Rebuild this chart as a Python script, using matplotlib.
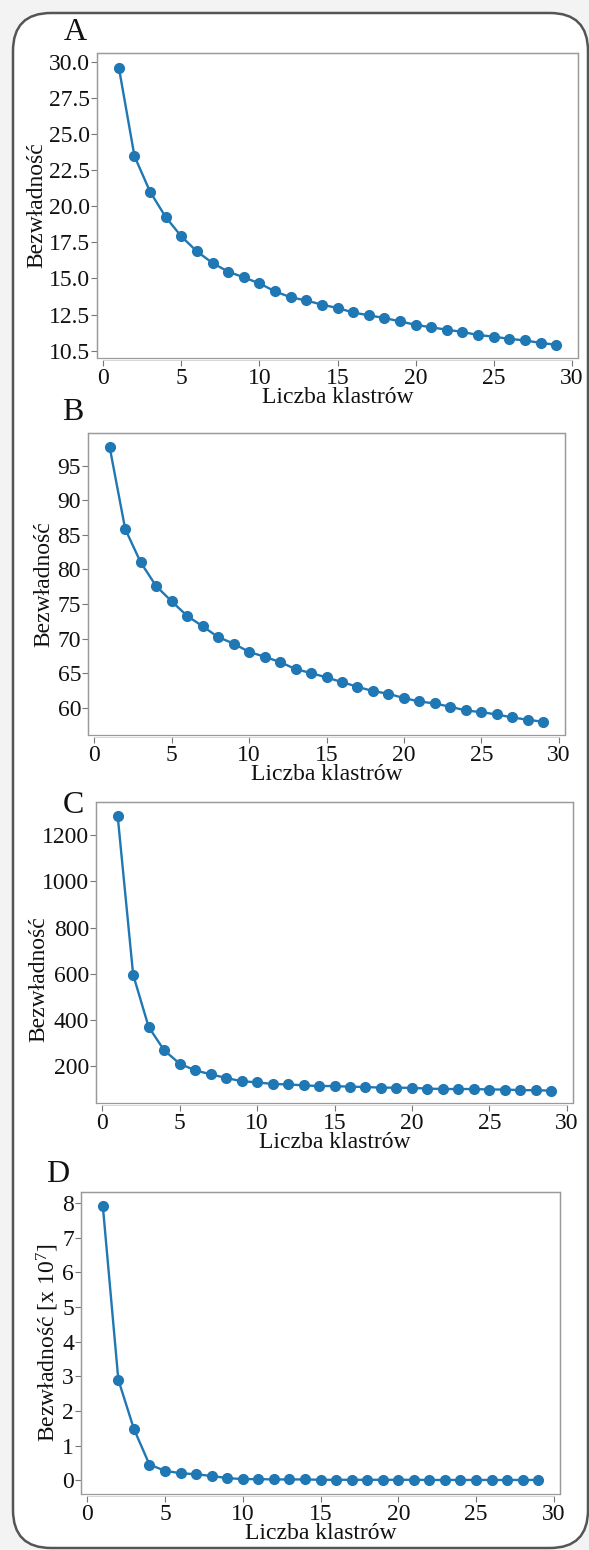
import matplotlib
matplotlib.use('Agg')
import matplotlib.pyplot as plt
from matplotlib.patches import FancyBboxPatch, Rectangle

plt.rcParams['font.family'] = ['Liberation Serif', 'DejaVu Serif']
plt.rcParams['mathtext.fontset'] = 'custom'
plt.rcParams['mathtext.rm'] = 'Liberation Serif'
plt.rcParams['mathtext.it'] = 'Liberation Serif'

W, H = 589, 1550

clusters = list(range(1, 30))

inertia_a = [29.59, 23.46, 21.00, 19.25, 17.91, 16.87, 16.07, 15.47, 15.08, 14.66,
             14.11, 13.70, 13.48, 13.19, 12.96, 12.65, 12.45, 12.27, 12.03, 11.80,
             11.62, 11.46, 11.30, 11.09, 10.98, 10.82, 10.72, 10.54, 10.42]
inertia_b = [97.65, 85.85, 81.03, 77.60, 75.40, 73.30, 71.80, 70.24, 69.30, 68.10,
             67.40, 66.63, 65.62, 65.04, 64.41, 63.74, 63.06, 62.44, 62.05, 61.43,
             60.94, 60.65, 60.17, 59.64, 59.40, 59.06, 58.63, 58.30, 58.00]
inertia_c = [1283, 595, 369, 268, 210, 181, 164, 148, 134, 129,
             122, 120, 116, 113, 113, 110, 109, 106, 106, 105,
             102, 100, 100, 100, 98, 98, 95, 95, 93]
inertia_d = [7.93, 2.90, 1.48, 0.45, 0.27, 0.20, 0.17, 0.12, 0.06, 0.03,
             0.03, 0.02, 0.02, 0.02, 0.01, 0.01, 0.01, 0.01, 0.01, 0.01,
             0.01, 0.005, 0.005, 0.005, 0.005, 0.005, 0.005, 0.005, 0.005]

yticks_a = [10, 12.5, 15, 17.5, 20, 22.5, 25, 27.5, 30]
ylabels_a = ['10.5', '12.5', '15.0', '17.5', '20.0', '22.5', '25.0', '27.5', '30.0']
yticks_b = [60, 65, 70, 75, 80, 85, 90, 95]
yticks_c = [200, 400, 600, 800, 1000, 1200]
yticks_d = [0, 1, 2, 3, 4, 5, 6, 7, 8]
xticks = [0, 5, 10, 15, 20, 25, 30]

xlabel = 'Liczba klastrów'
ylabel = 'Bezwładność'

# panel boxes in pixels: left, top, right, bottom
panels = [
    dict(letter='A', y=inertia_a, box=(97, 53, 578, 358), ylim=(9.5, 30.6),
         ticks=yticks_a, labels=ylabels_a, ylab=ylabel, ylab_pos=(-0.125, 0.5),
         letter_pos=(75, 32)),
    dict(letter='B', y=inertia_b, box=(88, 433, 565, 735), ylim=(56.1, 99.7),
         ticks=yticks_b, labels=None, ylab=ylabel, ylab_pos=(-0.092, 0.5),
         letter_pos=(73, 412)),
    dict(letter='C', y=inertia_c, box=(96, 802, 573, 1103), ylim=(39.5, 1344),
         ticks=yticks_c, labels=None, ylab=ylabel, ylab_pos=(-0.12, 0.41),
         letter_pos=(73, 805)),
    dict(letter='D', y=inertia_d, box=(81, 1192, 560, 1494), ylim=(-0.4, 8.32),
         ticks=yticks_d, labels=None, ylab=ylabel + r' [x 10$^{7}$]',
         ylab_pos=(-0.07, 0.5), letter_pos=(58, 1174)),
]

fig = plt.figure(figsize=(W / 100, H / 100), dpi=100)
fig.patch.set_facecolor('#f3f3f3')

# rounded frame around all panels
frame = FancyBboxPatch((13 / 100, 2 / 100), 575 / 100, 1535 / 100,
                       boxstyle='round,pad=0,rounding_size=0.38',
                       transform=fig.dpi_scale_trans, facecolor='white',
                       edgecolor='#555555', linewidth=1.8, zorder=0)
fig.add_artist(frame)

blue = '#1f77b4'
for p in panels:
    l, t, r, b = p['box']
    ax = fig.add_axes([l / W, 1 - b / H, (r - l) / W, (b - t) / H])
    ax.plot(clusters, p['y'], color=blue, lw=1.7, marker='o', ms=7,
            zorder=3, clip_on=False)
    ax.set_xlim(-0.4, 30.4)
    ax.set_ylim(*p['ylim'])
    ax.set_xticks(xticks)
    ax.set_yticks(p['ticks'])
    if p['labels'] is not None:
        ax.set_yticklabels(p['labels'])

    for s in ['top', 'right', 'left']:
        ax.spines[s].set_color('#9a9a9a')
        ax.spines[s].set_linewidth(0.9)
    ax.spines['bottom'].set_position(('outward', 1.5))
    ax.spines['bottom'].set_bounds(0, 30)
    ax.spines['bottom'].set_color('#d0d0d0')
    ax.spines['bottom'].set_linewidth(0.6)
    ax.add_patch(Rectangle((0, 0), 1, 1, transform=ax.transAxes, fill=False,
                           edgecolor='#9a9a9a', linewidth=0.9, clip_on=False,
                           zorder=2))

    ax.tick_params(axis='both', direction='out', length=4.5, width=0.8,
                   color='#777777', labelsize=17, labelcolor='#111111')
    ax.tick_params(axis='y', pad=0.5)
    ax.tick_params(axis='x', pad=1.5)

    ax.set_xlabel(xlabel, fontsize=17, color='#111111')
    ax.xaxis.set_label_coords(0.5, -0.13)
    ax.xaxis.label.set_verticalalignment('center')
    ax.set_ylabel(p['ylab'], fontsize=17, color='#111111')
    ax.yaxis.set_label_coords(*p['ylab_pos'])
    ax.yaxis.label.set_verticalalignment('center')

    lx, ly = p['letter_pos']
    fig.text(lx / W, 1 - ly / H, p['letter'], fontsize=23, ha='center',
             va='center', color='#111111')

fig.savefig('out.png', dpi=100, facecolor=fig.get_facecolor())
